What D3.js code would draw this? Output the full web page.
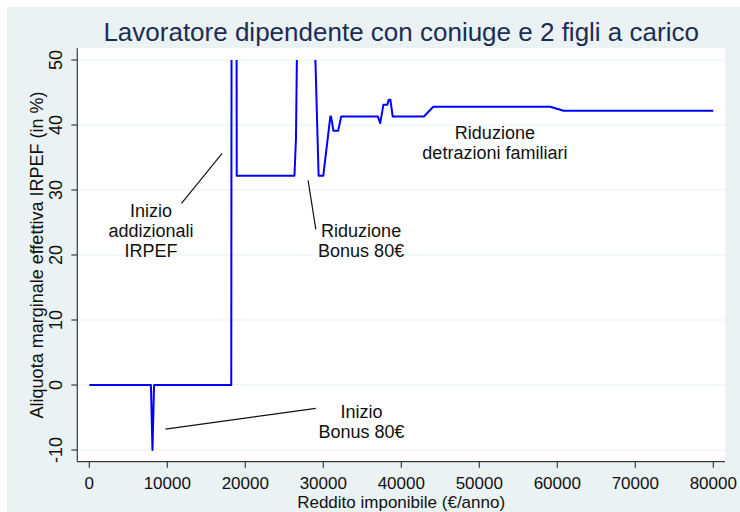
<!DOCTYPE html>
<html>
<head>
<meta charset="utf-8">
<script src="https://cdn.jsdelivr.net/npm/d3@7"></script>
<style>
  body { margin: 0; background: #fff; }
  text { font-family: "Liberation Sans", Arial, sans-serif; }
</style>
</head>
<body>
<div id="chart"></div>
<script>
// reddito imponibile (€/anno) and aliquota marginale effettiva (%)
// values above 50 are out of the plotted range (they get clipped)
const reddito = [0, 7900, 8100, 8300, 18200, 18300, 18800, 18900, 26300, 26500, 26700,
  28700, 29000, 29400, 30000, 30900, 31000, 31300, 31900, 32300, 37000, 37300, 37700,
  38200, 38400, 38600, 38900, 42900, 44100, 59100, 60800, 80000];
const aliquota = [0, 0, -10, 0, 0, 150, 150, 32.2, 32.2, 38, 60,
  56, 49.5, 32.2, 32.2, 41.3, 41.3, 39.1, 39.1, 41.3, 41.3, 40.3, 43.1,
  43.1, 43.9, 43.9, 41.3, 41.3, 42.8, 42.8, 42.2, 42.2];

const xTicks = [0, 10000, 20000, 30000, 40000, 50000, 60000, 70000, 80000];
const yTicks = [-10, 0, 10, 20, 30, 40, 50];

const titleText = "Lavoratore dipendente con coniuge e 2 figli a carico";
const xTitle = "Reddito imponibile (€/anno)";
const yTitle = "Aliquota marginale effettiva IRPEF (in %)";

// annotations: text centre (x, first baseline y) and pointer line, in data units
const noteLines = [["Inizio", "addizionali", "IRPEF"], ["Riduzione", "Bonus 80€"],
  ["Riduzione", "detrazioni familiari"], ["Inizio", "Bonus 80€"]];
const noteX = [7900, 34850, 52000, 34900];
const noteY = [25.9, 22.8, 37.85, -5.0];
const pointerFrom = [[11820, 27.95], [28050, 31.5], null, [9770, -6.8]];
const pointerTo = [[17030, 35.65], [29040, 23.95], null, [29040, -3.6]];

const width = 740, height = 512;
const frame = { left: 77.3, right: 725, top: 48.3, bottom: 461.7 };

const x = d3.scaleLinear().domain([0, 80000]).range([89.3, 713.3]);
const y = d3.scaleLinear().domain([-10, 50]).range([450, 60]);

const svg = d3.select("#chart").append("svg")
  .attr("width", width)
  .attr("height", height);

// graph region (Stata s2color look)
svg.append("rect").attr("x", 7).attr("y", 7)
  .attr("width", width - 7).attr("height", height - 7)
  .attr("fill", "#eaf2f3");

svg.append("rect")
  .attr("x", frame.left).attr("y", frame.top)
  .attr("width", frame.right - frame.left).attr("height", frame.bottom - frame.top)
  .attr("fill", "#fff");

// grid lines
svg.append("g").selectAll("line")
  .data(yTicks)
  .join("line")
  .attr("x1", frame.left).attr("x2", frame.right)
  .attr("y1", d => y(d)).attr("y2", d => y(d))
  .attr("stroke", "#e6eff1")
  .attr("stroke-width", 1.2);

// the line itself, clipped at 50%
svg.append("clipPath").attr("id", "clip")
  .append("rect")
  .attr("x", frame.left).attr("y", y(50))
  .attr("width", frame.right - frame.left).attr("height", frame.bottom - y(50));

const line = d3.line()
  .x((d, i) => x(reddito[i]))
  .y(d => y(d));

svg.append("path")
  .datum(aliquota)
  .attr("clip-path", "url(#clip)")
  .attr("d", line)
  .attr("fill", "none")
  .attr("stroke", "#0000ff")
  .attr("stroke-width", 2)
  .attr("stroke-linejoin", "round");

// axes
const axisColor = "#3a3a3a";
const xAxis = svg.append("g");
xAxis.append("line")
  .attr("x1", frame.left).attr("x2", frame.right)
  .attr("y1", frame.bottom).attr("y2", frame.bottom)
  .attr("stroke", axisColor).attr("stroke-width", 1.2);
xAxis.selectAll(".tick")
  .data(xTicks)
  .join("line")
  .attr("x1", d => x(d)).attr("x2", d => x(d))
  .attr("y1", frame.bottom).attr("y2", frame.bottom + 6)
  .attr("stroke", axisColor).attr("stroke-width", 1.2);
xAxis.selectAll("text")
  .data(xTicks)
  .join("text")
  .attr("x", d => x(d)).attr("y", 488.5)
  .attr("text-anchor", "middle")
  .attr("font-size", 17)
  .attr("fill", "#111")
  .text(d => d);

const yAxis = svg.append("g");
yAxis.append("line")
  .attr("x1", frame.left).attr("x2", frame.left)
  .attr("y1", frame.top).attr("y2", frame.bottom)
  .attr("stroke", axisColor).attr("stroke-width", 1.2);
yAxis.selectAll(".tick")
  .data(yTicks)
  .join("line")
  .attr("x1", frame.left - 6).attr("x2", frame.left)
  .attr("y1", d => y(d)).attr("y2", d => y(d))
  .attr("stroke", axisColor).attr("stroke-width", 1.2);
yAxis.selectAll("text")
  .data(yTicks)
  .join("text")
  .attr("transform", d => `translate(61.5,${y(d)}) rotate(-90)`)
  .attr("text-anchor", "middle")
  .attr("font-size", 18)
  .attr("fill", "#111")
  .text(d => d);

// titles
svg.append("text")
  .attr("x", (frame.left + frame.right) / 2).attr("y", 41)
  .attr("text-anchor", "middle")
  .attr("font-size", 26)
  .attr("fill", "#1c2d55")
  .text(titleText);

svg.append("text")
  .attr("x", (frame.left + frame.right) / 2).attr("y", 508)
  .attr("text-anchor", "middle")
  .attr("font-size", 17)
  .attr("fill", "#111")
  .text(xTitle);

svg.append("text")
  .attr("transform", `translate(42.5,${(frame.top + frame.bottom) / 2}) rotate(-90)`)
  .attr("text-anchor", "middle")
  .attr("font-size", 18)
  .attr("fill", "#111")
  .text(yTitle);

// annotations
noteLines.forEach((lines, k) => {
  const t = svg.append("text")
    .attr("text-anchor", "middle")
    .attr("font-size", 18)
    .attr("fill", "#111");
  lines.forEach((s, j) => {
    t.append("tspan")
      .attr("x", x(noteX[k]))
      .attr("y", y(noteY[k]) + j * 20)
      .text(s);
  });
  if (pointerFrom[k]) {
    svg.append("line")
      .attr("x1", x(pointerFrom[k][0])).attr("y1", y(pointerFrom[k][1]))
      .attr("x2", x(pointerTo[k][0])).attr("y2", y(pointerTo[k][1]))
      .attr("stroke", "#111")
      .attr("stroke-width", 1.2);
  }
});
</script>
</body>
</html>
